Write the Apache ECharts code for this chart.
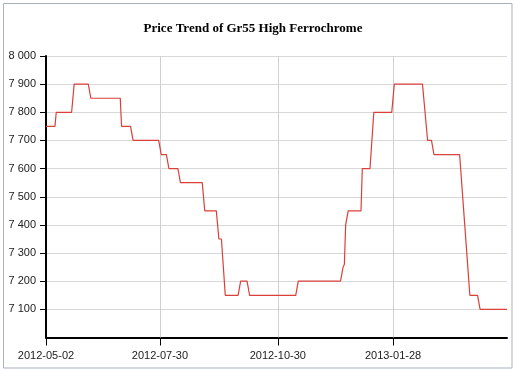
<!DOCTYPE html>
<html>
<head>
<meta charset="utf-8">
<script src="https://cdn.jsdelivr.net/npm/echarts@6/dist/echarts.min.js"></script>
<style>
html,body{margin:0;padding:0;background:#fff;}
#chart{width:515px;height:370px;}
</style>
</head>
<body>
<div id="chart"></div>
<script>
// ---- data ----
const titleText = 'Price Trend of Gr55 High Ferrochrome';
const dates = [
  '2012-05-02','2012-05-09','2012-05-10','2012-05-22','2012-05-24','2012-06-04','2012-06-06',
  '2012-06-29','2012-06-30','2012-07-07','2012-07-09','2012-07-29','2012-07-31','2012-08-04',
  '2012-08-06','2012-08-13','2012-08-15','2012-09-01','2012-09-03','2012-09-12','2012-09-14',
  '2012-09-16','2012-09-19','2012-09-29','2012-10-01','2012-10-06','2012-10-08','2012-11-13',
  '2012-11-15','2012-12-18','2012-12-20','2012-12-21','2012-12-22','2012-12-24','2013-01-03',
  '2013-01-04','2013-01-10','2013-01-13','2013-01-27','2013-01-29','2013-02-20','2013-02-24',
  '2013-02-27','2013-03-01','2013-03-21','2013-03-25','2013-03-29','2013-04-04','2013-04-06',
  '2013-04-27'
];
const prices = [
  7750,7750,7800,7800,7900,7900,7850,
  7850,7750,7750,7700,7700,7650,7650,
  7600,7600,7550,7550,7450,7450,7350,
  7350,7150,7150,7200,7200,7150,7150,
  7200,7200,7250,7260,7400,7450,7450,
  7600,7600,7800,7800,7900,7900,7700,
  7700,7650,7650,7400,7150,7150,7100,
  7100
];
const xTickLabels = ['2012-05-02','2012-07-30','2012-10-30','2013-01-28'];
const xStart = '2012-05-02';
const xEnd = '2013-04-27';
const yTickValues = [7100,7200,7300,7400,7500,7600,7700,7800,7900,8000];
const yMin = 7000, yMax = 8000, yStep = 100;

// ---- chart ----
const chart = echarts.init(document.getElementById('chart'), null, {renderer:'canvas'});
const xTickTs = xTickLabels.map(d => Date.parse(d));
const seriesData = dates.map((d, i) => [Date.parse(d), prices[i]]);
const fmtDate = v => new Date(v).toISOString().slice(0, 10);
const fmtNum = v => String(v).replace(/\B(?=(\d{3})+(?!\d))/g, ' ');

chart.setOption({
  animation: false,
  backgroundColor: '#ffffff',
  graphic: [
    {type:'rect', z:-10, shape:{x:3.5, y:3.5, width:508.5, height:364.5},
     style:{fill:'#ffffff', stroke:'#a8b1bd', lineWidth:1}},
    {type:'text', x:253, y:29, z:10,
     style:{text:titleText, font:'bold 13px "Liberation Serif", "Times New Roman", serif',
            fill:'#000', align:'center', verticalAlign:'middle'}}
  ],
  grid: {left:46, right:8, top:56, bottom:32.5, containLabel:false, outerBoundsMode:'none'},
  xAxis: {
    type:'value',
    min: Date.parse(xStart),
    max: Date.parse(xEnd),
    axisLine:{show:true, onZero:false, lineStyle:{color:'#000', width:2}},
    axisTick:{show:true, customValues:xTickTs, length:8, lineStyle:{color:'#000', width:1}},
    axisLabel:{show:true, customValues:xTickTs, formatter:fmtDate, margin:13,
               color:'#222', fontSize:11, fontFamily:'"Liberation Sans", Arial, sans-serif'},
    splitLine:{show:false}
  },
  yAxis: {
    type:'value', min:yMin, max:yMax, interval:yStep,
    axisLine:{show:true, onZero:false, lineStyle:{color:'#000', width:2}},
    axisTick:{show:true, customValues:yTickValues, length:6, lineStyle:{color:'#000', width:1}},
    axisLabel:{show:true, customValues:yTickValues, formatter:fmtNum, margin:10,
               color:'#222', fontSize:11, fontFamily:'"Liberation Sans", Arial, sans-serif'},
    splitLine:{show:true, lineStyle:{color:'#d8d8d8', width:1}}
  },
  series: [{
    type:'line',
    data: seriesData,
    showSymbol:false,
    symbol:'none',
    lineStyle:{color:'#d9403a', width:1.2},
    markLine:{
      silent:true, symbol:'none', animation:false,
      label:{show:false},
      lineStyle:{color:'#d0d0d0', width:1, type:'solid'},
      data: xTickTs.slice(1).map(t => ({xAxis:t}))
    },
    z:5
  }]
});
</script>
</body>
</html>
